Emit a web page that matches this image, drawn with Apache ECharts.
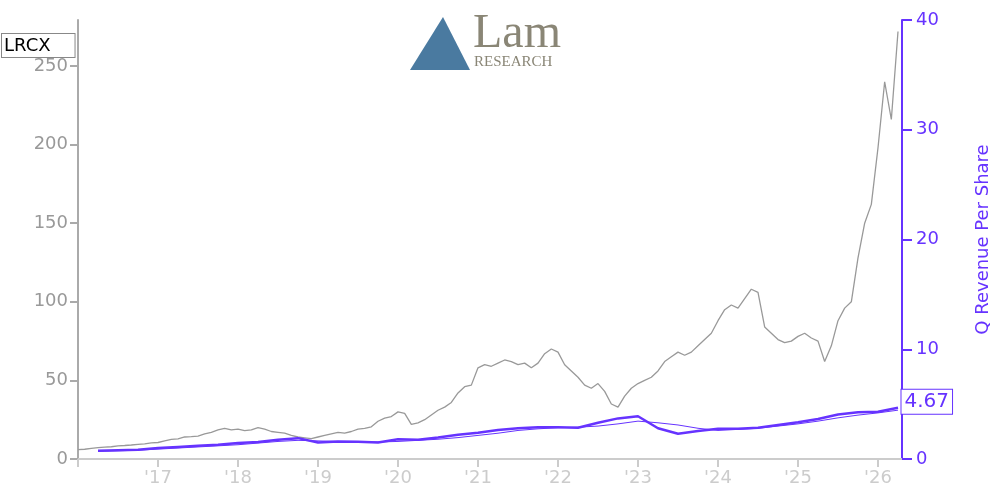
<!DOCTYPE html><html><head><meta charset="utf-8">
<script src="https://cdn.jsdelivr.net/npm/echarts@6/dist/echarts.min.js"></script>
<style>body{margin:0}#c{width:1000px;height:500px}</style></head><body><div id="c"></div>
<script>
// monthly price (start of month), Jan 2016 .. Apr 2026
const priceStartYear = 2016;
const price = [
6,6.2,6.8,7.2,7.6,7.8,8.4,8.6,8.9,9.3,9.6,10.2,
10.5,11.6,12.5,12.8,14,14.2,14.6,16,17,18.5,19.5,18.5,
19,18,18.5,20,19,17.5,17,16.5,15,14,13.5,13,
14,15,16,17,16.5,17.5,19,19.5,20.5,24,26,27,
30,29,22,23,25,28,31,33,36,42,46,47,
58,60,59,61,63,62,60,61,58,61,67,70,
68,60,56,52,47,45,48,43,35,33,40,45,
48,50,52,56,62,65,68,66,68,72,76,80,
88,95,98,96,102,108,106,84,80,76,74,75,
78,80,77,75,62,72,88,96,100,128,150,162,
198,240,216,272
];
// quarterly revenue per share (thick) and trailing average (thin), starting 2016 Q2
const revStartYear = 2016.25;
const revQ = [0.75,0.8,0.85,1.0,1.1,1.2,1.3,1.45,1.55,1.75,1.9,1.5,1.6,1.58,1.5,1.8,1.75,1.95,2.2,2.4,2.65,2.8,2.9,2.9,2.85,3.3,3.7,3.9,2.8,2.3,2.55,2.75,2.75,2.85,3.1,3.35,3.65,4.05,4.25,4.3,4.67];
const revT = [0.7,0.75,0.8,0.9,1.0,1.1,1.2,1.3,1.45,1.6,1.7,1.65,1.6,1.55,1.55,1.6,1.7,1.8,1.95,2.15,2.35,2.6,2.75,2.85,2.9,3.0,3.2,3.45,3.3,3.1,2.8,2.6,2.7,2.8,3.0,3.2,3.45,3.75,4.0,4.2,4.45];
const yearTicks = ["","'17","'18","'19","'20","'21","'22","'23","'24","'25","'26"];
const P='#6633ff';
const ch = echarts.init(document.getElementById('c'));
const lastX = revStartYear + (revQ.length-1)*0.25;
ch.setOption({
  animation:false,
  grid:{left:78,right:98,top:20,bottom:41},
  xAxis:{type:'value',min:2016,max:2026.3,interval:1,splitLine:{show:false},
    axisLine:{lineStyle:{color:'#ccc',width:2}},axisTick:{show:true,lineStyle:{color:'#ccc',width:2},length:8},
    axisLabel:{color:'#ccc',fontSize:18,fontFamily:'DejaVu Sans',margin:10,showMaxLabel:false,
      formatter:v=>yearTicks[Math.round(v-2016)]||''}},
  yAxis:[
    {type:'value',min:0,max:279.3,interval:50,position:'left',splitLine:{show:false},
     axisLine:{show:true,lineStyle:{color:'#aaa',width:2}},axisTick:{show:true,inside:false,length:8,lineStyle:{color:'#aaa',width:2}},
     axisLabel:{color:'#999',fontSize:18,fontFamily:'DejaVu Sans',margin:10,showMaxLabel:false}},
    {type:'value',min:0,max:40,interval:10,position:'right',splitLine:{show:false},
     name:'Q Revenue Per Share',nameLocation:'middle',nameRotate:90,nameGap:72,
     nameTextStyle:{color:P,fontSize:18,fontFamily:'DejaVu Sans'},
     axisLine:{show:true,lineStyle:{color:P,width:2}},axisTick:{show:true,inside:false,length:10,lineStyle:{color:P,width:2}},
     axisLabel:{color:P,fontSize:18,fontFamily:'DejaVu Sans',margin:14}}
  ],
  series:[
    {type:'line',data:price.map((v,i)=>[priceStartYear+i/12,v]),symbol:'none',lineStyle:{color:'#999',width:1.3}},
    {type:'line',yAxisIndex:1,data:revT.map((v,i)=>[revStartYear+i*0.25,v]),symbol:'none',lineStyle:{color:P,width:1}},
    {type:'line',yAxisIndex:1,data:revQ.map((v,i)=>[revStartYear+i*0.25,v]),symbol:'none',lineStyle:{color:P,width:2.5},
     markPoint:{symbol:'rect',symbolSize:[1,1],data:[{coord:[lastX,revQ[revQ.length-1]]}],
       label:{show:true,position:'right',offset:[-2,-6],formatter:String(revQ[revQ.length-1]),color:P,fontSize:20,fontFamily:'DejaVu Sans',
         borderColor:P,borderWidth:1,backgroundColor:'#fff',padding:[3,3,1,3]},itemStyle:{color:'transparent'}}}
  ],
  graphic:[
    {type:'text',left:1,top:33,style:{text:'LRCX',fontSize:18,fontFamily:'DejaVu Sans',fill:'#000',backgroundColor:'#fff',borderColor:'#888',borderWidth:1,padding:[3,24,2,2]}},
    {type:'polygon',shape:{points:[[410,70],[443,17],[470,70]]},style:{fill:'#4a7aa0'}},
    {type:'text',left:473,top:10,style:{text:'Lam',fontSize:48,fontFamily:'Liberation Serif',fill:'#8a8676'}},
    {type:'text',left:474,top:55,style:{text:'RESEARCH',fontSize:15,fontFamily:'Liberation Serif',fill:'#8a8676'}}
  ]
});
</script></body></html>
